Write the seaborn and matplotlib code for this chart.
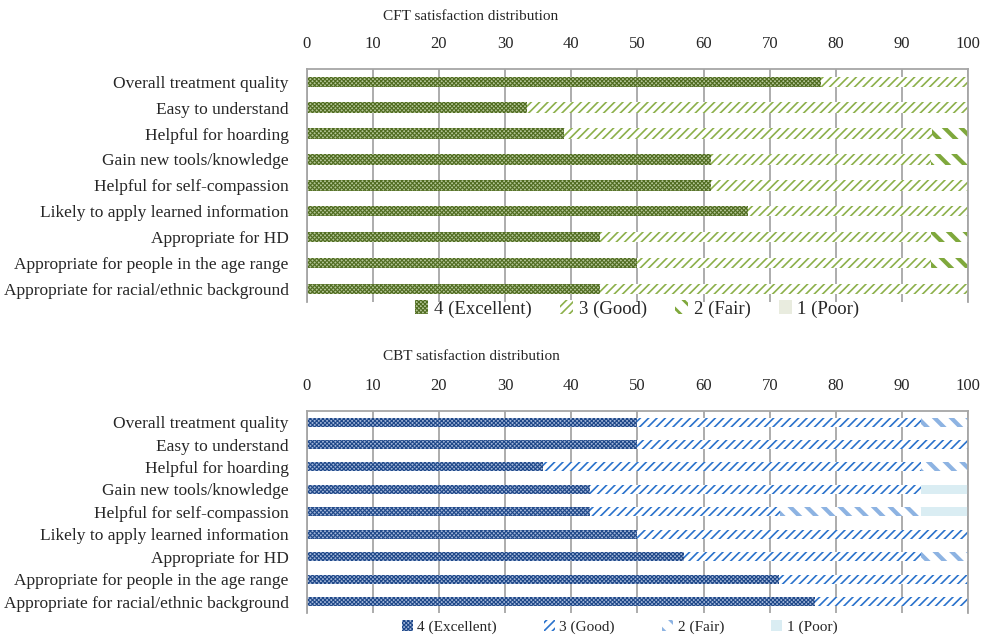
import numpy as np
import pandas as pd
import seaborn as sns
import matplotlib.pyplot as plt
from matplotlib.patches import Patch

# categories (same for both charts)
items = [
    "Overall treatment quality",
    "Easy to understand",
    "Helpful for hoarding",
    "Gain new tools/knowledge",
    "Helpful for self-compassion",
    "Likely to apply learned information",
    "Appropriate for HD",
    "Appropriate for people in the age range",
    "Appropriate for racial/ethnic background",
]
levels = ["4 (Excellent)", "3 (Good)", "2 (Fair)", "1 (Poor)"]

# CFT percentages
cft_excellent = [77.8, 33.3, 38.9, 61.1, 61.1, 66.7, 44.4, 50.0, 44.4]
cft_good = [22.2, 66.7, 55.6, 33.3, 38.9, 33.3, 50.0, 44.4, 55.6]
cft_fair = [0.0, 0.0, 5.6, 5.6, 0.0, 0.0, 5.6, 5.6, 0.0]
cft_poor = [0.0, 0.0, 0.0, 0.0, 0.0, 0.0, 0.0, 0.0, 0.0]

# CBT percentages
cbt_excellent = [50.0, 50.0, 35.7, 42.9, 42.9, 50.0, 57.1, 71.4, 76.9]
cbt_good = [42.9, 50.0, 57.1, 50.0, 28.6, 50.0, 35.7, 28.6, 23.1]
cbt_fair = [7.1, 0.0, 7.1, 0.0, 21.4, 0.0, 7.1, 0.0, 0.0]
cbt_poor = [0.0, 0.0, 0.0, 7.1, 7.1, 0.0, 0.0, 0.0, 0.0]

sns.set_style("white")
plt.rcParams["font.family"] = ["Liberation Serif", "DejaVu Serif"]

# (face, hatch colour, hatch, hatch width) for excellent, good, fair, poor
green_styles = [
    ("#b3c595", "#4f6b20", "xxxxxxxx", 0.8),
    ("white", "#8cb04a", "////", 1.2),
    ("white", "#7fa83c", "\\\\", 3.0),
    ("#e9ecdf", "#e9ecdf", "", 1.0),
]
blue_styles = [
    ("#a2b6da", "#1f4888", "xxxxxxxx", 0.8),
    ("white", "#2a72cc", "////", 1.2),
    ("white", "#8db3e2", "\\\\", 3.0),
    ("#daedf3", "#daedf3", "", 1.0),
]

fig = plt.figure(figsize=(9.86, 6.37), dpi=100)
ax1 = fig.add_axes([0.311, 0.526, 0.671, 0.366])
ax2 = fig.add_axes([0.311, 0.038, 0.671, 0.317])


def stacked(ax, series, styles, legend_size, colspace, leg_x, leg_y):
    df = pd.DataFrame({"item": items})
    cum = np.cumsum(np.array(series), axis=0)
    # draw widest layer first, so each shorter one sits on top
    for k in range(3, -1, -1):
        face, hc, hatch, hw = styles[k]
        plt.rcParams["hatch.linewidth"] = hw
        df["val"] = cum[k]
        sns.barplot(data=df, x="val", y="item", orient="h", ax=ax,
                    color=face, edgecolor=hc, hatch=hatch, linewidth=0,
                    width=0.4, saturation=1)
    ax.set_xlim(0, 100)
    ax.set_xticks(range(0, 101, 10))
    ax.xaxis.tick_top()
    ax.set_xlabel("")
    ax.set_ylabel("")
    ax.grid(axis="x", color="#a6a6a6", linewidth=1.3)
    ax.set_axisbelow(True)
    ax.tick_params(axis="x", length=0, pad=12, labelsize=12)
    ax.tick_params(axis="y", length=0, pad=13, labelsize=12.5)
    for s in ["left", "top", "right"]:
        ax.spines[s].set_color("#a6a6a6")
        ax.spines[s].set_linewidth(1.3)
    ax.spines["bottom"].set_visible(False)
    handles = []
    for k in range(4):
        face, hc, hatch, hw = styles[k]
        handles.append(Patch(facecolor=face, edgecolor=hc, hatch=hatch,
                             linewidth=0, label=levels[k]))
    leg = ax.legend(handles=handles, loc="center", bbox_to_anchor=(leg_x, leg_y),
                    ncol=4, frameon=False, fontsize=legend_size,
                    handlelength=0.7, handleheight=0.7, handletextpad=0.3,
                    columnspacing=colspace)
    for h, st in zip(leg.legend_handles, styles):
        if hasattr(h, "set_hatch_linewidth"):
            h.set_hatch_linewidth(min(st[3], 2.0))


stacked(ax1, [cft_excellent, cft_good, cft_fair, cft_poor], green_styles,
        13.5, 1.5, 0.5, -0.03)
stacked(ax2, [cbt_excellent, cbt_good, cbt_fair, cbt_poor], blue_styles,
        11, 3.1, 0.473, -0.07)

fig.text(383 / 986, 1 - 17 / 637, "CFT satisfaction distribution",
         ha="left", va="center", fontsize=11)
fig.text(383 / 986, 1 - 356 / 637, "CBT satisfaction distribution",
         ha="left", va="center", fontsize=11)

fig.savefig("out.png", dpi=100)
